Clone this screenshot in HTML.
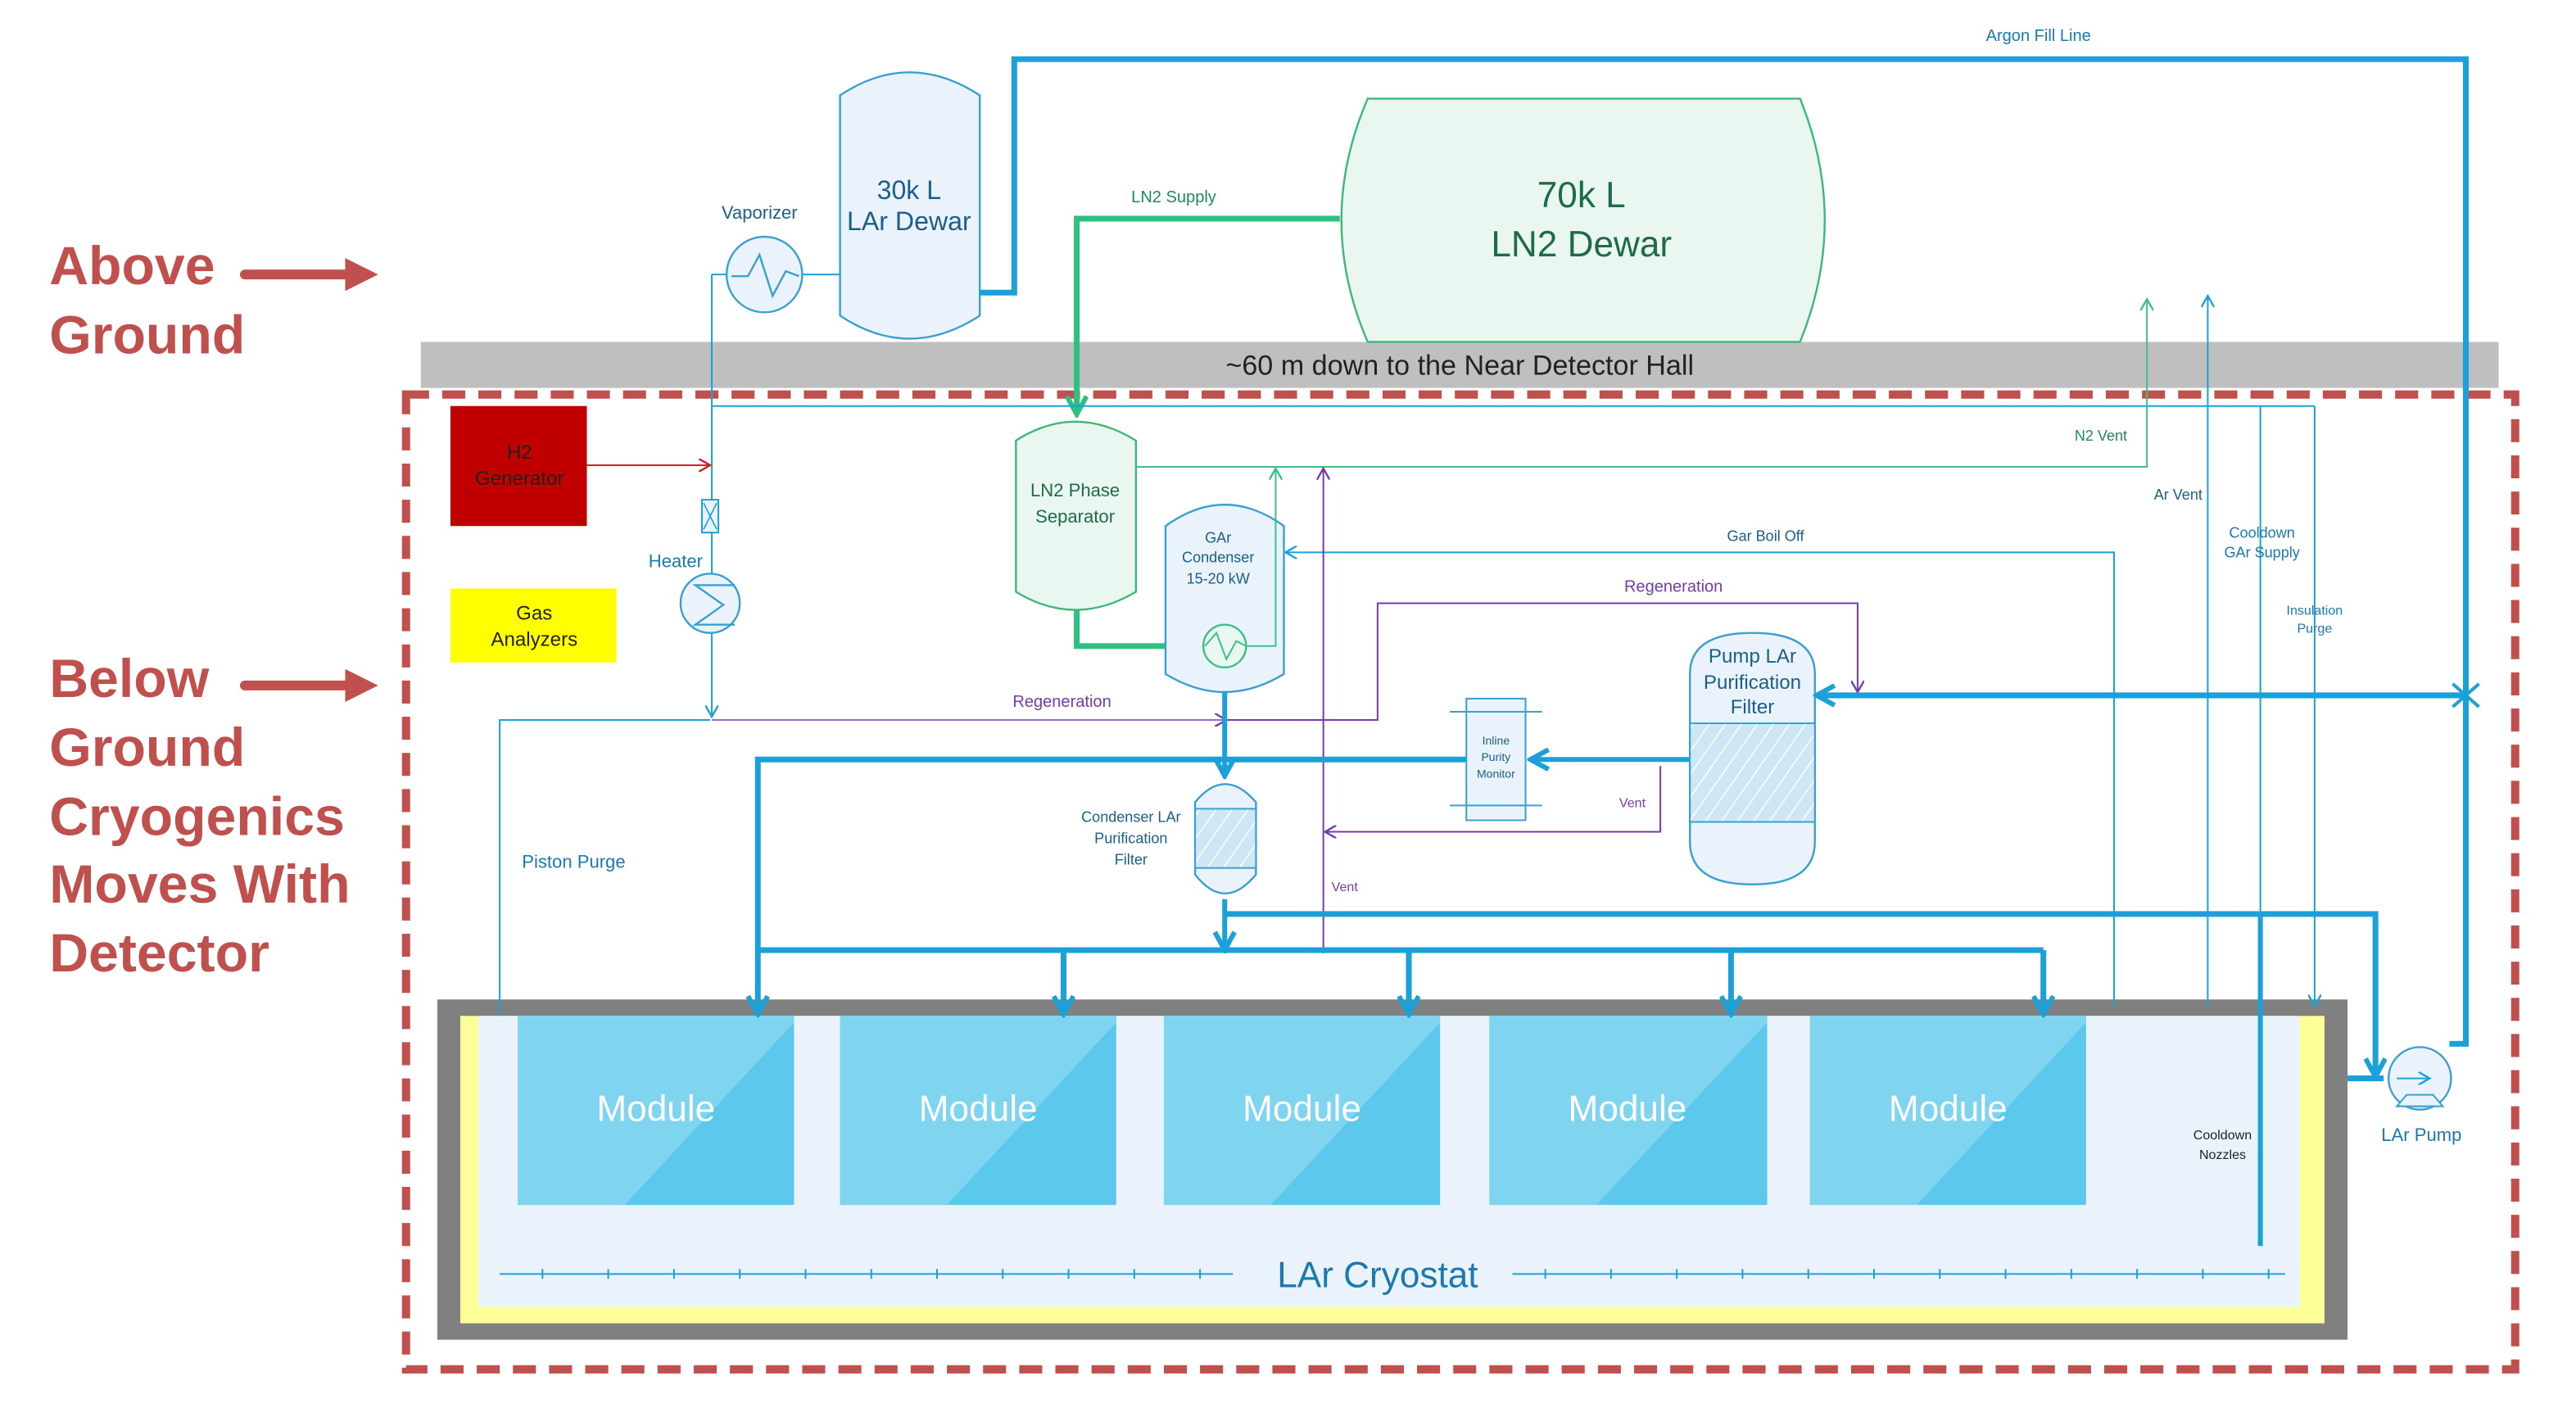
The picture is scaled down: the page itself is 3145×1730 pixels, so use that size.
<!DOCTYPE html>
<html><head><meta charset="utf-8"><style>
html,body{margin:0;padding:0;background:#fff;}
svg{display:block;}
text{font-family:"Liberation Sans",sans-serif;}
</style></head><body>
<svg width="3145" height="1730" viewBox="0 0 1567 862" preserveAspectRatio="none" xmlns="http://www.w3.org/2000/svg">
<defs>
<marker id="ab" markerWidth="8" markerHeight="8" refX="7" refY="4" orient="auto" markerUnits="userSpaceOnUse"><path d="M0,0 L7,4 L0,8" fill="none" stroke="#1ba1d8" stroke-width="1.2"/></marker>
<marker id="abT" markerWidth="14" markerHeight="14" refX="12" refY="7" orient="auto" markerUnits="userSpaceOnUse"><path d="M1,1 L12,7 L1,13" fill="none" stroke="#1ba1d8" stroke-width="3"/></marker>
<marker id="ag" markerWidth="8" markerHeight="8" refX="7" refY="4" orient="auto" markerUnits="userSpaceOnUse"><path d="M0,0 L7,4 L0,8" fill="none" stroke="#3cc08a" stroke-width="1.2"/></marker>
<marker id="agT" markerWidth="14" markerHeight="14" refX="12" refY="7" orient="auto" markerUnits="userSpaceOnUse"><path d="M1,1 L12,7 L1,13" fill="none" stroke="#2ec080" stroke-width="3"/></marker>
<marker id="ap" markerWidth="8" markerHeight="8" refX="7" refY="4" orient="auto" markerUnits="userSpaceOnUse"><path d="M0,0 L7,4 L0,8" fill="none" stroke="#7a3aa8" stroke-width="1.2"/></marker>
<marker id="ar" markerWidth="8" markerHeight="8" refX="7" refY="4" orient="auto" markerUnits="userSpaceOnUse"><path d="M0,0 L7,4 L0,8" fill="none" stroke="#d02020" stroke-width="1.2"/></marker>
<pattern id="hatch" width="8" height="8" patternUnits="userSpaceOnUse" patternTransform="rotate(35)"><rect width="8" height="8" fill="#cfe6f5"/><line x1="0" y1="0" x2="0" y2="8" stroke="#ffffff" stroke-width="1.5"/></pattern>
</defs>

<g fill="#c0504d" font-weight="bold" font-size="33">
<text x="30" y="173">Above</text><text x="30" y="215">Ground</text>
<text x="30" y="424">Below</text><text x="30" y="466">Ground</text><text x="30" y="508">Cryogenics</text><text x="30" y="549">Moves With</text><text x="30" y="591">Detector</text>
</g>
<g stroke="#c0504d" stroke-width="6" stroke-linecap="round"><line x1="149" y1="167" x2="212" y2="167"/><line x1="149" y1="417" x2="212" y2="417"/></g>
<path d="M210,157 L230,167 L210,177Z M210,407 L230,417 L210,427Z" fill="#c0504d"/>

<rect x="256" y="208" width="1264" height="28" fill="#bfbfbf"/>
<text x="888" y="228" font-size="17" text-anchor="middle" fill="#222">~60 m down to the Near Detector Hall</text>

<rect x="266" y="608" width="1162" height="207" fill="#808080"/>
<rect x="280" y="618" width="1134" height="187" fill="#ffff99"/>
<rect x="291" y="618" width="1108" height="177" fill="#eaf3fb"/>
<g>
<rect x="315" y="618" width="168" height="115" fill="#5bc8ec"/><path d="M315,618 L483,618 L483,622 L380,733 L315,733Z" fill="#7fd4f0"/>
<rect x="511" y="618" width="168" height="115" fill="#5bc8ec"/><path d="M511,618 L679,618 L679,622 L576,733 L511,733Z" fill="#7fd4f0"/>
<rect x="708" y="618" width="168" height="115" fill="#5bc8ec"/><path d="M708,618 L876,618 L876,622 L773,733 L708,733Z" fill="#7fd4f0"/>
<rect x="906" y="618" width="169" height="115" fill="#5bc8ec"/><path d="M906,618 L1075,618 L1075,622 L971,733 L906,733Z" fill="#7fd4f0"/>
<rect x="1101" y="618" width="168" height="115" fill="#5bc8ec"/><path d="M1101,618 L1269,618 L1269,622 L1166,733 L1101,733Z" fill="#7fd4f0"/>
</g>
<g fill="#fff" font-size="22" text-anchor="middle"><text x="399" y="682">Module</text><text x="595" y="682">Module</text><text x="792" y="682">Module</text><text x="990" y="682">Module</text><text x="1185" y="682">Module</text></g>
<text x="838" y="783" font-size="22" text-anchor="middle" fill="#1a7ab0">LAr Cryostat</text>
<g stroke="#1ba1d8" stroke-width="1"><line x1="304" y1="775" x2="750" y2="775"/><line x1="920" y1="775" x2="1390" y2="775"/></g>
<g stroke="#1ba1d8" stroke-width="1">
<path d="M330,772v6M370,772v6M410,772v6M450,772v6M490,772v6M530,772v6M570,772v6M610,772v6M650,772v6M690,772v6M730,772v6M940,772v6M980,772v6M1020,772v6M1060,772v6M1100,772v6M1140,772v6M1180,772v6M1220,772v6M1260,772v6M1300,772v6M1340,772v6M1380,772v6"/>
</g>

<rect x="247" y="240" width="1283" height="593" fill="none" stroke="#c0504d" stroke-width="5" stroke-dasharray="14,8"/>

<path d="M511,58 Q553,30 596,58 L596,192 Q553,220 511,192Z" fill="#eaf3fb" stroke="#3aa0d0" stroke-width="1.2"/>
<text x="553" y="121" font-size="16" text-anchor="middle" fill="#1a5f8a">30k L</text>
<text x="553" y="140" font-size="16" text-anchor="middle" fill="#1a5f8a">LAr Dewar</text>

<circle cx="465" cy="167" r="23" fill="#eaf3fb" stroke="#3aa0d0" stroke-width="1.2"/>
<path d="M445,168 L455,168 L462,155 L470,180 L478,165 L486,168" fill="none" stroke="#3aa0d0" stroke-width="1.2"/>
<text x="462" y="133" font-size="11" text-anchor="middle" fill="#1a5f8a">Vaporizer</text>
<line x1="488" y1="167" x2="511" y2="167" stroke="#1ba1d8" stroke-width="1"/>
<path d="M433,167 L442,167 M433,167 L433,436" stroke="#1ba1d8" stroke-width="1" fill="none" marker-end="url(#ab)"/>

<path d="M832,60 L1095,60 Q1125,134 1095,208 L832,208 Q800,134 832,60Z" fill="#eaf7f0" stroke="#3cb878" stroke-width="1.2"/>
<text x="962" y="126" font-size="22" text-anchor="middle" fill="#1e6b4a">70k L</text>
<text x="962" y="156" font-size="22" text-anchor="middle" fill="#1e6b4a">LN2 Dewar</text>

<path d="M596,178 L617,178 L617,36 L1500,36 L1500,635 L1490,635" fill="none" stroke="#1ba1d8" stroke-width="3.5"/>
<text x="1240" y="25" font-size="10" text-anchor="middle" fill="#1a7ab0">Argon Fill Line</text>

<path d="M815,133 L655,133 L655,252" fill="none" stroke="#2ec080" stroke-width="3.5" marker-end="url(#agT)"/>
<text x="714" y="123" font-size="10" text-anchor="middle" fill="#1e8a5a">LN2 Supply</text>

<path d="M433,247 L1408,247" stroke="#1ba1d8" stroke-width="1"/>
<path d="M1375,247 L1375,556" stroke="#1ba1d8" stroke-width="1"/>
<path d="M1408,247 L1408,612" stroke="#1ba1d8" stroke-width="1" marker-end="url(#ab)"/>

<rect x="274" y="247" width="83" height="73" fill="#c00000"/>
<text x="316" y="279" font-size="12" text-anchor="middle" fill="#222">H2</text>
<text x="316" y="295" font-size="12" text-anchor="middle" fill="#222">Generator</text>
<line x1="357" y1="283" x2="432" y2="283" stroke="#d02020" stroke-width="1" marker-end="url(#ar)"/>
<rect x="427" y="304" width="10" height="20" fill="#eaf3fb" stroke="#1ba1d8" stroke-width="1"/>
<path d="M428,306 L436,322 M436,306 L428,322" stroke="#1ba1d8" stroke-width="0.8"/>
<circle cx="432" cy="367" r="18" fill="#eaf3fb" stroke="#3aa0d0" stroke-width="1.2"/>
<path d="M447,356 L423,356 L440,368 L423,380 L447,380" fill="none" stroke="#3aa0d0" stroke-width="1.2"/>
<text x="411" y="345" font-size="11" text-anchor="middle" fill="#1a7ab0">Heater</text>
<rect x="274" y="358" width="101" height="45" fill="#ffff00"/>
<text x="325" y="377" font-size="12" text-anchor="middle" fill="#222">Gas</text>
<text x="325" y="393" font-size="12" text-anchor="middle" fill="#222">Analyzers</text>

<path d="M432,438 L304,438 L304,618" stroke="#1ba1d8" stroke-width="1" fill="none"/>
<text x="349" y="528" font-size="11" text-anchor="middle" fill="#1a7ab0">Piston Purge</text>

<path d="M433,438 L746,438" stroke="#9a6ac8" stroke-width="1" fill="none" marker-end="url(#ap)"/>
<path d="M746,438 L838,438 L838,367 L1130,367 L1130,421" stroke="#7a3aa8" stroke-width="1" fill="none" marker-end="url(#ap)"/>
<text x="646" y="430" font-size="10" text-anchor="middle" fill="#7a3aa8">Regeneration</text>
<text x="1018" y="360" font-size="10" text-anchor="middle" fill="#7a3aa8">Regeneration</text>

<path d="M618,268 Q654,245 691,268 L691,360 Q654,382 618,360Z" fill="#eaf7f0" stroke="#3cb878" stroke-width="1.2"/>
<text x="654" y="302" font-size="11" text-anchor="middle" fill="#1e6b4a">LN2 Phase</text>
<text x="654" y="318" font-size="11" text-anchor="middle" fill="#1e6b4a">Separator</text>
<path d="M691,284 L1306,284 L1306,182" stroke="#3cc08a" stroke-width="1" fill="none" marker-end="url(#ag)"/>
<text x="1278" y="268" font-size="9" text-anchor="middle" fill="#1e8a5a">N2 Vent</text>
<path d="M655,371 L655,393 L733,393" stroke="#2ec080" stroke-width="3.5" fill="none" marker-end="url(#agT)"/>

<path d="M709,320 Q745,294 781,320 L781,410 Q745,432 709,410Z" fill="#eaf3fb" stroke="#3aa0d0" stroke-width="1.2"/>
<text x="741" y="330" font-size="9" text-anchor="middle" fill="#1a5f8a">GAr</text>
<text x="741" y="342" font-size="9" text-anchor="middle" fill="#1a5f8a">Condenser</text>
<text x="741" y="355" font-size="9" text-anchor="middle" fill="#1a5f8a">15-20 kW</text>
<circle cx="745" cy="393" r="13" fill="#eaf7f0" stroke="#3cc08a" stroke-width="1.2"/>
<path d="M733,393 L740,385 L746,401 L752,390 L758,393" fill="none" stroke="#3cc08a" stroke-width="1"/>
<path d="M758,393 L776,393 L776,285" stroke="#3cc08a" stroke-width="1" fill="none" marker-end="url(#ag)"/>

<path d="M1286,612 L1286,336 L782,336" stroke="#1ba1d8" stroke-width="1" fill="none" marker-end="url(#ab)"/>
<text x="1074" y="329" font-size="9" text-anchor="middle" fill="#1a5f8a">Gar Boil Off</text>

<path d="M805,580 L805,285" stroke="#7a3aa8" stroke-width="1" fill="none" marker-end="url(#ap)"/>
<text x="818" y="542" font-size="8" text-anchor="middle" fill="#7a3aa8">Vent</text>
<path d="M1010,466 L1010,506 L806,506" stroke="#7a3aa8" stroke-width="1" fill="none" marker-end="url(#ap)"/>
<text x="993" y="491" font-size="8" text-anchor="middle" fill="#7a3aa8">Vent</text>

<path d="M745,421 L745,472" stroke="#1ba1d8" stroke-width="3" fill="none" marker-end="url(#abT)"/>
<path d="M727,488 Q745,466 764,488 L764,532 Q745,555 727,532Z" fill="#eaf3fb" stroke="#3aa0d0" stroke-width="1.2"/>
<rect x="727" y="492" width="37" height="36" fill="url(#hatch)" stroke="#3aa0d0" stroke-width="1"/>
<text x="688" y="500" font-size="9" text-anchor="middle" fill="#1a5f8a">Condenser LAr</text>
<text x="688" y="513" font-size="9" text-anchor="middle" fill="#1a5f8a">Purification</text>
<text x="688" y="526" font-size="9" text-anchor="middle" fill="#1a5f8a">Filter</text>

<path d="M1028,462 L931,462" stroke="#1ba1d8" stroke-width="3" fill="none" marker-end="url(#abT)"/>
<path d="M892,462 L461,462 L461,617" stroke="#1ba1d8" stroke-width="3.5" fill="none" marker-end="url(#abT)"/>
<rect x="892" y="425" width="36" height="74" fill="#eaf3fb" stroke="#3aa0d0" stroke-width="1"/>
<line x1="882" y1="433" x2="938" y2="433" stroke="#3aa0d0" stroke-width="1"/>
<line x1="882" y1="490" x2="938" y2="490" stroke="#3aa0d0" stroke-width="1"/>
<text x="910" y="453" font-size="7" text-anchor="middle" fill="#1a5f8a">Inline</text>
<text x="910" y="463" font-size="7" text-anchor="middle" fill="#1a5f8a">Purity</text>
<text x="910" y="473" font-size="7" text-anchor="middle" fill="#1a5f8a">Monitor</text>

<path d="M1028,410 Q1028,385 1066,385 Q1104,385 1104,410 L1104,512 Q1104,538 1066,538 Q1028,538 1028,512Z" fill="#eaf3fb" stroke="#3aa0d0" stroke-width="1.2"/>
<rect x="1028" y="440" width="76" height="60" fill="url(#hatch)" stroke="#3aa0d0" stroke-width="1"/>
<text x="1066" y="403" font-size="12" text-anchor="middle" fill="#1a5f8a">Pump LAr</text>
<text x="1066" y="419" font-size="12" text-anchor="middle" fill="#1a5f8a">Purification</text>
<text x="1066" y="434" font-size="12" text-anchor="middle" fill="#1a5f8a">Filter</text>
<path d="M1500,423 L1105,423" stroke="#1ba1d8" stroke-width="3.5" fill="none" marker-end="url(#abT)"/>
<path d="M1492,416 L1508,430 M1508,416 L1492,430" stroke="#1ba1d8" stroke-width="2"/>

<path d="M745,547 L745,578" stroke="#1ba1d8" stroke-width="3" fill="none" marker-end="url(#abT)"/>
<path d="M461,578 L1243,578" stroke="#1ba1d8" stroke-width="3.5" fill="none"/>
<g stroke="#1ba1d8" stroke-width="3.5" fill="none">
<path d="M647,578 L647,617" marker-end="url(#abT)"/>
<path d="M857,578 L857,617" marker-end="url(#abT)"/>
<path d="M1053,578 L1053,617" marker-end="url(#abT)"/>
<path d="M1243,578 L1243,617" marker-end="url(#abT)"/>
</g>
<path d="M745,556 L1445,556 L1445,655" stroke="#1ba1d8" stroke-width="3.5" fill="none" marker-end="url(#abT)"/>
<path d="M1428,656 L1450,656" stroke="#1ba1d8" stroke-width="3.5"/>

<path d="M1343,612 L1343,180" stroke="#1ba1d8" stroke-width="1" fill="none" marker-end="url(#ab)"/>
<text x="1325" y="304" font-size="9" text-anchor="middle" fill="#1a5f8a">Ar Vent</text>
<text x="1376" y="327" font-size="9" text-anchor="middle" fill="#1a7ab0">Cooldown</text>
<text x="1376" y="339" font-size="9" text-anchor="middle" fill="#1a7ab0">GAr Supply</text>
<text x="1408" y="374" font-size="8" text-anchor="middle" fill="#1a7ab0">Insulation</text>
<text x="1408" y="385" font-size="8" text-anchor="middle" fill="#1a7ab0">Purge</text>
<path d="M1375,556 L1375,758" stroke="#1ba1d8" stroke-width="3"/>
<text x="1352" y="693" font-size="8" text-anchor="middle" fill="#222">Cooldown</text>
<text x="1352" y="705" font-size="8" text-anchor="middle" fill="#222">Nozzles</text>

<circle cx="1472" cy="656" r="19" fill="#eaf3fb" stroke="#3aa0d0" stroke-width="1.2"/>
<path d="M1458,673 L1486,673 L1480,666 L1464,666Z" fill="#eaf3fb" stroke="#3aa0d0" stroke-width="1"/>
<path d="M1458,656 L1478,656" stroke="#1ba1d8" stroke-width="1" marker-end="url(#ab)"/>
<text x="1473" y="694" font-size="11" text-anchor="middle" fill="#1a7ab0">LAr Pump</text>
</svg>
</body></html>
